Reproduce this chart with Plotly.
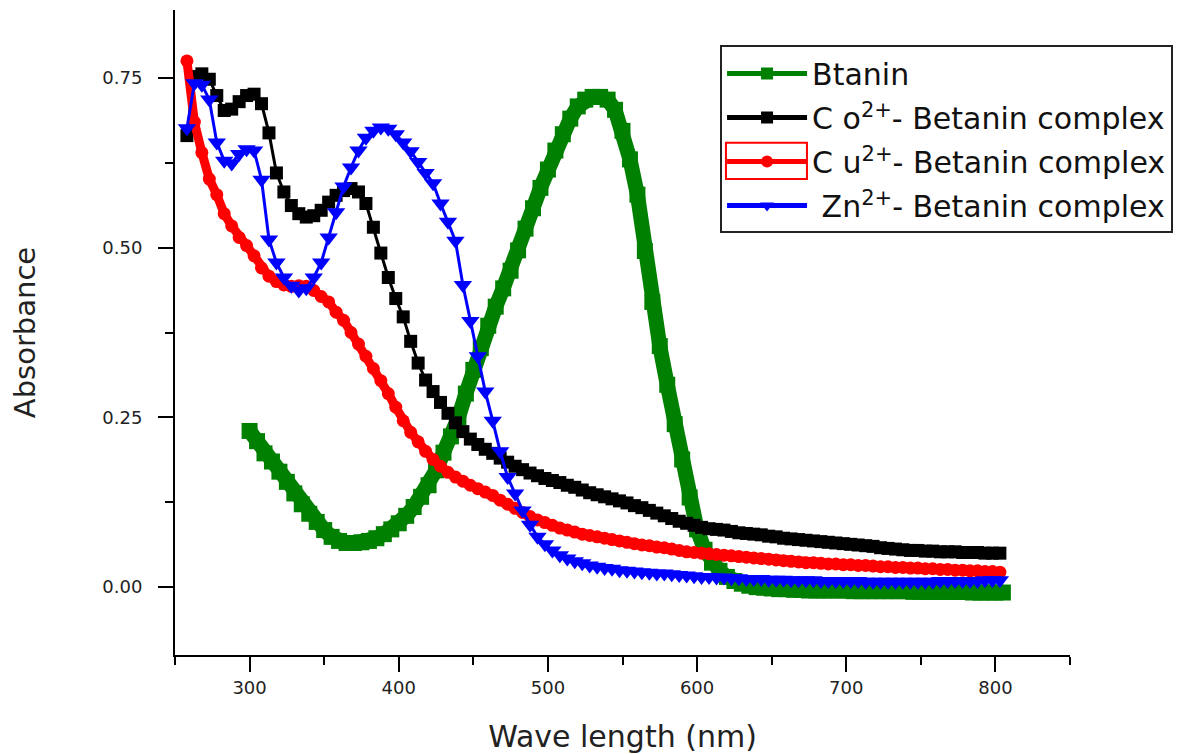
import plotly.graph_objects as go

# Wavelength grids (nm)
wl_complex = list(range(258, 804, 5))   # 258 ... 803
wl_btanin = list(range(300, 806, 5))    # 300 ... 805

btanin = [
    0.230, 0.215, 0.197, 0.185, 0.170, 0.155, 0.138, 0.122, 0.108, 0.096,
    0.084, 0.074, 0.068, 0.065, 0.065, 0.066, 0.068, 0.072, 0.078, 0.085,
    0.094, 0.105, 0.118, 0.133, 0.150, 0.172, 0.198, 0.222, 0.250, 0.285,
    0.320, 0.352, 0.385, 0.413, 0.440, 0.466, 0.496, 0.528, 0.558, 0.588,
    0.615, 0.643, 0.667, 0.690, 0.708, 0.718, 0.722, 0.722, 0.718, 0.703,
    0.672, 0.630, 0.578, 0.495, 0.420, 0.355, 0.298, 0.240, 0.188, 0.132,
    0.085, 0.055, 0.036, 0.024, 0.015, 0.009, 0.005, 0.002, 0.000, -0.001,
    -0.002, -0.003, -0.003, -0.004, -0.004, -0.005, -0.005, -0.005, -0.005, -0.005,
    -0.005, -0.006, -0.006, -0.006, -0.006, -0.006, -0.006, -0.006, -0.006, -0.007,
    -0.007, -0.007, -0.007, -0.007, -0.007, -0.007, -0.007, -0.008, -0.008, -0.008,
    -0.008, -0.008,
]

co_complex = [
    0.665, 0.752, 0.756, 0.748, 0.724, 0.702, 0.704, 0.715, 0.724, 0.726,
    0.712, 0.669, 0.610, 0.582, 0.562, 0.550, 0.545, 0.547, 0.555, 0.567,
    0.577, 0.584, 0.587, 0.582, 0.565, 0.530, 0.492, 0.456, 0.425, 0.398,
    0.362, 0.330, 0.305, 0.288, 0.272, 0.256, 0.242, 0.229, 0.218, 0.210,
    0.203, 0.197, 0.190, 0.184, 0.178, 0.173, 0.168, 0.164, 0.160, 0.157,
    0.154, 0.150, 0.147, 0.143, 0.139, 0.136, 0.133, 0.130, 0.127, 0.124,
    0.120, 0.117, 0.113, 0.109, 0.105, 0.101, 0.097, 0.094, 0.091, 0.088,
    0.086, 0.085, 0.084, 0.082, 0.080, 0.079, 0.078, 0.077, 0.075, 0.074,
    0.072, 0.071, 0.070, 0.069, 0.068, 0.067, 0.066, 0.065, 0.064, 0.063,
    0.062, 0.061, 0.060, 0.058, 0.057, 0.056, 0.055, 0.054, 0.054, 0.053,
    0.053, 0.052, 0.052, 0.052, 0.051, 0.051, 0.051, 0.050, 0.050, 0.050,
]

cu_complex = [
    0.775, 0.685, 0.640, 0.601, 0.578, 0.550, 0.532, 0.515, 0.503, 0.488,
    0.470, 0.458, 0.450, 0.445, 0.443, 0.444, 0.443, 0.437, 0.428, 0.420,
    0.405, 0.393, 0.375, 0.358, 0.340, 0.322, 0.304, 0.285, 0.265, 0.245,
    0.228, 0.214, 0.200, 0.188, 0.178, 0.169, 0.162, 0.156, 0.150, 0.145,
    0.140, 0.135, 0.128, 0.122, 0.116, 0.110, 0.104, 0.099, 0.095, 0.091,
    0.087, 0.084, 0.081, 0.078, 0.076, 0.074, 0.072, 0.070, 0.068, 0.066,
    0.064, 0.062, 0.061, 0.059, 0.058, 0.056, 0.054, 0.052, 0.051, 0.050,
    0.049, 0.048, 0.047, 0.046, 0.045, 0.044, 0.043, 0.042, 0.041, 0.040,
    0.039, 0.038, 0.037, 0.036, 0.036, 0.035, 0.034, 0.034, 0.033, 0.033,
    0.032, 0.032, 0.031, 0.030, 0.030, 0.029, 0.029, 0.028, 0.028, 0.027,
    0.027, 0.026, 0.026, 0.025, 0.025, 0.024, 0.024, 0.023, 0.023, 0.022,
]

zn_complex = [
    0.676, 0.742, 0.740, 0.718, 0.655, 0.628, 0.624, 0.638, 0.645, 0.643,
    0.600, 0.512, 0.478, 0.456, 0.444, 0.437, 0.440, 0.456, 0.478, 0.515,
    0.552, 0.590, 0.618, 0.643, 0.662, 0.672, 0.677, 0.675, 0.667, 0.655,
    0.642, 0.626, 0.610, 0.595, 0.565, 0.538, 0.510, 0.445, 0.392, 0.340,
    0.288, 0.245, 0.200, 0.162, 0.138, 0.113, 0.092, 0.074, 0.063, 0.054,
    0.047, 0.042, 0.038, 0.035, 0.032, 0.030, 0.028, 0.027, 0.025, 0.024,
    0.023, 0.022, 0.021, 0.020, 0.020, 0.019, 0.018, 0.017, 0.016, 0.015,
    0.015, 0.014, 0.014, 0.013, 0.013, 0.012, 0.012, 0.012, 0.011, 0.011,
    0.011, 0.010, 0.010, 0.010, 0.010, 0.009, 0.009, 0.009, 0.009, 0.009,
    0.009, 0.008, 0.008, 0.008, 0.008, 0.008, 0.008, 0.008, 0.008, 0.008,
    0.008, 0.009, 0.009, 0.009, 0.009, 0.009, 0.009, 0.010, 0.010, 0.010,
]

series_names = [
    "Btanin",
    "C o<sup>2+</sup>- Betanin complex",
    "C u<sup>2+</sup>- Betanin complex",
    " Zn<sup>2+</sup>- Betanin complex",
]

FONT = "DejaVu Sans"

fig = go.Figure()
fig.add_trace(go.Scatter(
    x=wl_btanin, y=btanin, name=series_names[0], mode="lines+markers",
    line=dict(color="#008000", width=15),
    marker=dict(symbol="square", size=16, color="#008000"),
    legendgroup="g1",
))
fig.add_trace(go.Scatter(
    x=wl_complex, y=co_complex, name=series_names[1], mode="lines+markers",
    line=dict(color="#000000", width=3),
    marker=dict(symbol="square", size=13, color="#000000"),
    legendgroup="g2",
))
fig.add_trace(go.Scatter(
    x=wl_complex, y=cu_complex, name=series_names[2], mode="lines+markers",
    line=dict(color="#ff0000", width=9),
    marker=dict(symbol="circle", size=13, color="#ff0000"),
    legendgroup="g3",
))
fig.add_trace(go.Scatter(
    x=wl_complex, y=zn_complex, name=series_names[3], mode="lines+markers",
    line=dict(color="#0000ff", width=3),
    marker=dict(symbol="triangle-down", size=16, color="#0000ff"),
    legendgroup="g4",
))

# Origin-style outlined box around the Cu legend sample
fig.add_shape(
    type="rect", xref="paper", yref="paper",
    x0=0.6156, x1=0.7061, y0=0.738, y1=0.794,
    line=dict(color="#ff0000", width=2), fillcolor="rgba(0,0,0,0)",
    layer="above",
)

fig.update_layout(
    width=1190, height=754,
    margin=dict(l=175, r=120, t=10, b=99, autoexpand=False),
    paper_bgcolor="white", plot_bgcolor="white",
    font=dict(family=FONT, color="#222222"),
    showlegend=True,
    legend=dict(
        x=0.609, y=0.945, xanchor="left", yanchor="top",
        bgcolor="rgba(255,255,255,0)", bordercolor="#222222", borderwidth=2,
        font=dict(family=FONT, size=30, color="#111111"),
        itemwidth=80, tracegroupgap=2,
        itemsizing="constant",
    ),
    xaxis=dict(
        range=[250, 850], tick0=0, dtick=100, automargin=False,
        showline=True, linecolor="black", linewidth=2, mirror=False,
        ticks="outside", ticklen=15, tickwidth=2, tickcolor="black",
        minor=dict(dtick=50, ticks="outside", ticklen=8, tickwidth=2, tickcolor="black"),
        showgrid=False, zeroline=False,
        tickfont=dict(family=FONT, size=18, color="#222222"),
        title=dict(text="Wave length (nm)", font=dict(family=FONT, size=30, color="#222222"), standoff=30),
    ),
    yaxis=dict(
        range=[-0.1, 0.85], tick0=0, dtick=0.25, tickformat=".2f", automargin=False,
        showline=True, linecolor="black", linewidth=2, mirror=False,
        ticks="outside", ticklen=15, tickwidth=2, tickcolor="black",
        minor=dict(dtick=0.125, ticks="outside", ticklen=8, tickwidth=2, tickcolor="black"),
        showgrid=False, zeroline=False,
        tickfont=dict(family=FONT, size=18, color="#222222"),
        ticklabelstandoff=12,
        title=dict(text="Absorbance", font=dict(family=FONT, size=29, color="#222222"), standoff=58),
    ),
)

fig.write_html("out.html")
